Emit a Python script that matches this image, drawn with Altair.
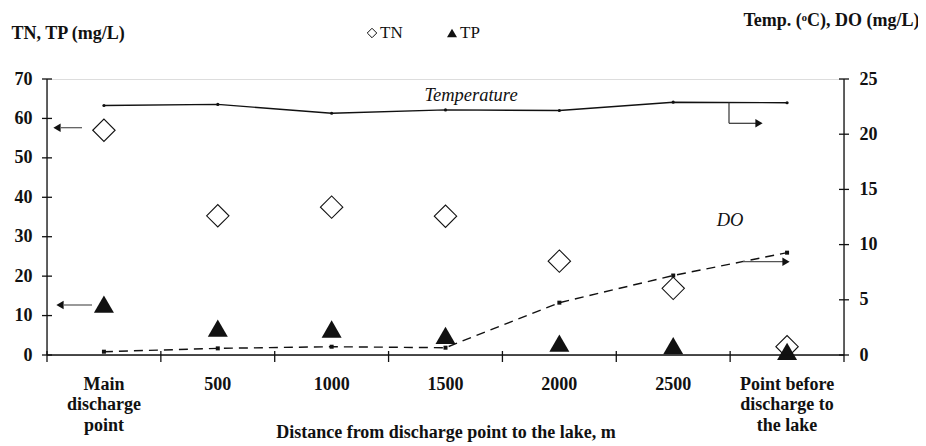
import altair as alt
import pandas as pd

categories = ["Main\ndischarge\npoint", "500", "1000", "1500", "2000", "2500",
              "Point before\ndischarge to\nthe lake"]
tn = [57.0, 35.3, 37.5, 35.2, 23.8, 16.9, 2.1]
tp = [12.9, 6.8, 6.6, 5.0, 3.0, 2.4, 0.9]
temperature = [22.6, 22.7, 21.9, 22.2, 22.15, 22.9, 22.85]
do_vals = [0.3, 0.6, 0.75, 0.66, 4.74, 7.2, 9.27]

left_ticks = [0, 10, 20, 30, 40, 50, 60, 70]
right_ticks = [0, 5, 10, 15, 20, 25]

df = pd.DataFrame({"cat": categories, "tn": tn, "tp": tp,
                   "temp": temperature, "do": do_vals})

FONT = "Liberation Serif"
W, H = 797, 276
INK = "#111"

x_axis = alt.Axis(title="Distance from discharge point to the lake, m",
                  labelAngle=0, domain=False, ticks=False, tickSize=0,
                  labelPadding=20, labelLineHeight=20.5,
                  labelExpr="split(datum.label, '\\n')",
                  labelFont=FONT, labelFontSize=18, labelFontWeight="bold",
                  labelColor=INK, titleFont=FONT, titleFontSize=18,
                  titleFontWeight="bold", titleColor=INK,
                  titleY=77, titleBaseline="middle")

def xenc(band_pos=None):
    kw = {}
    if band_pos is not None:
        kw["bandPosition"] = band_pos
    return alt.X("cat:N", sort=categories,
                 scale=alt.Scale(type="band", paddingInner=0, paddingOuter=0),
                 axis=x_axis, **kw)

left_scale = alt.Scale(domain=[0, 70], nice=False)
right_scale = alt.Scale(domain=[0, 25], nice=False)

left_axis = alt.Axis(values=left_ticks, title="TN, TP (mg/L)", grid=False,
                     domain=False, ticks=False, tickSize=0,
                     labelPadding=15, labelFont=FONT, labelFontSize=18,
                     labelFontWeight="bold", labelColor=INK,
                     titleFont=FONT, titleFontSize=18, titleFontWeight="bold",
                     titleColor=INK, titleAngle=0, titleAlign="left",
                     titleBaseline="middle", titleX=-36, titleY=-46)
right_axis = alt.Axis(values=right_ticks, title="Temp. (ᵒC), DO (mg/L)", orient="right",
                      grid=False, domain=False, ticks=False, tickSize=0,
                      labelPadding=15, labelFont=FONT,
                      labelFontSize=18, labelFontWeight="bold", labelColor=INK,
                      titleFont=FONT, titleFontSize=18, titleFontWeight="bold",
                      titleColor=INK, titleAngle=0, titleAlign="right",
                      titleBaseline="middle", titleX=75, titleY=-59)

base = alt.Chart(df)

tn_layer = base.mark_point(shape="diamond", size=500, filled=True, fill="white",
                           stroke=INK, strokeWidth=1.1, opacity=1).encode(
    x=xenc(), y=alt.Y("tn:Q", scale=left_scale, axis=left_axis))
tp_layer = base.mark_point(shape="triangle-up", size=400, filled=True,
                           color=INK, opacity=1).encode(
    x=xenc(), y=alt.Y("tp:Q", scale=left_scale, axis=None))

temp_line = base.mark_line(color=INK, strokeWidth=1.4).encode(
    x=xenc(), y=alt.Y("temp:Q", scale=right_scale, axis=right_axis))
temp_pts = base.mark_point(shape="circle", size=10, filled=True, color=INK,
                           opacity=1).encode(
    x=xenc(), y=alt.Y("temp:Q", scale=right_scale, axis=None))
do_line = base.mark_line(color=INK, strokeWidth=1.4, strokeDash=[9, 6]).encode(
    x=xenc(), y=alt.Y("do:Q", scale=right_scale, axis=None))
do_pts = base.mark_point(shape="square", size=16, filled=True, color=INK,
                         opacity=1).encode(
    x=xenc(), y=alt.Y("do:Q", scale=right_scale, axis=None))

# axis lines and ticks drawn as rules through the same scales
x_ticks = base.mark_rule(color=INK, strokeWidth=1.3).encode(
    x=xenc(0), y=alt.value(H - 4), y2=alt.value(H + 7))
left_tick_marks = alt.Chart(pd.DataFrame({"v": left_ticks})).mark_rule(
    color=INK, strokeWidth=1.3).encode(
    y=alt.Y("v:Q", scale=left_scale, axis=None), x=alt.value(-5), x2=alt.value(5))
right_tick_marks = alt.Chart(pd.DataFrame({"v": right_ticks})).mark_rule(
    color=INK, strokeWidth=1.3).encode(
    y=alt.Y("v:Q", scale=right_scale, axis=None), x=alt.value(W - 5), x2=alt.value(W + 5))

one = alt.Chart(pd.DataFrame({"k": [0]}))

def hrule(x1, x2, y, color="#555", width=1.2):
    return one.mark_rule(color=color, strokeWidth=width).encode(
        x=alt.value(x1), x2=alt.value(x2), y=alt.value(y))

def vrule(x, y1, y2, color="#333", width=1.2):
    return one.mark_rule(color=color, strokeWidth=width).encode(
        x=alt.value(x), y=alt.value(y1), y2=alt.value(y2))

def head(x, y, shape):
    return one.mark_point(shape=shape, size=70, filled=True, color=INK,
                          opacity=1).encode(x=alt.value(x), y=alt.value(y))

def label(txt, x, y, italic=False, align="center", size=18.5):
    return one.mark_text(text=txt, font=FONT, fontSize=size, align=align,
                         baseline="middle", color=INK,
                         fontStyle="italic" if italic else "normal").encode(
        x=alt.value(x), y=alt.value(y))

annotations = alt.layer(
    vrule(0, 0, H, INK, 1.3), vrule(W, 0, H, INK, 1.3), hrule(0, W, H, INK, 1.3),
    vrule(W, H, H + 7, INK, 1.3),
    hrule(14, 35, 48.7), head(10, 48.7, "triangle-left"),
    hrule(17, 45, 226), head(13, 226, "triangle-left"),
    vrule(682, 23.5, 44.3), hrule(682, 710, 44.3, "#333"), head(712, 44.3, "triangle-right"),
    hrule(696, 736, 182.7), head(739, 182.7, "triangle-right"),
    label("Temperature", 424, 16, italic=True),
    label("DO", 683, 141, italic=True),
    one.mark_point(shape="diamond", size=90, filled=True, fill="white",
                   stroke=INK, strokeWidth=1, opacity=1).encode(
        x=alt.value(325), y=alt.value(-46)),
    label("TN", 333, -46, align="left", size=17),
    one.mark_point(shape="triangle-up", size=100, filled=True, color=INK,
                   opacity=1).encode(x=alt.value(405), y=alt.value(-46)),
    label("TP", 413, -46, align="left", size=17),
)

chart = alt.layer(tn_layer, tp_layer, temp_line, temp_pts, do_line, do_pts,
                  x_ticks, left_tick_marks, right_tick_marks,
                  annotations).resolve_scale(y="independent").properties(
    width=W, height=H,
    autosize=alt.AutoSizeParams(type="none"),
    padding={"left": 39, "top": 71, "right": 74, "bottom": 91},
).configure(background="white")

chart.save("out.html", embed_options={"renderer": "svg", "actions": False})
